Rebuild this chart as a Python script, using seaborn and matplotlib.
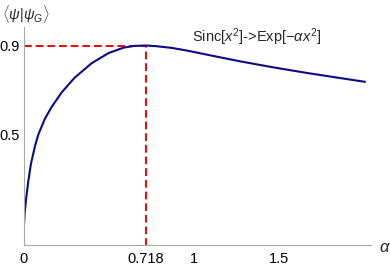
import matplotlib
matplotlib.use("Agg")
import matplotlib.pyplot as plt
import seaborn as sns
import pandas as pd

# overlap <psi|psi_G>
alpha = [0, 0.001, 0.007, 0.015, 0.028, 0.044, 0.068, 0.087, 0.125, 0.166, 0.225,
         0.3, 0.4, 0.5, 0.587, 0.65, 0.718, 0.78, 0.875, 0.97, 1.078, 1.274,
         1.469, 1.666, 1.862, 2.009]
overlap = [0, 0.07, 0.15, 0.21, 0.29, 0.37, 0.45, 0.5, 0.57, 0.625, 0.69,
           0.755, 0.82, 0.866, 0.89, 0.898, 0.9, 0.897, 0.889, 0.876, 0.859, 0.829,
           0.802, 0.777, 0.754, 0.737]
alpha_opt = 0.718
overlap_max = 0.9
xticks = [0, 0.718, 1, 1.5]
xticklabels = ["0", "0.718", "1", "1.5"]
yticks = [0.5, 0.9]
yticklabels = ["0.5", "0.9"]

sns.set_theme(style="white")
plt.rcParams["font.family"] = ["Liberation Sans", "DejaVu Sans"]
plt.rcParams["mathtext.fontset"] = "custom"
plt.rcParams["mathtext.rm"] = "Liberation Sans"
plt.rcParams["mathtext.it"] = "Liberation Sans:italic"

df = pd.DataFrame({"alpha": alpha, "overlap": overlap})

fig = plt.figure(figsize=(3.9, 2.69), dpi=100)
ax = fig.add_axes([23.5 / 390, 24 / 269, 347.5 / 390, 218 / 269])

# dashed guides to the maximum
ax.plot([0, alpha_opt], [overlap_max, overlap_max], color="red", ls=(0, (4, 2)), lw=1.4, zorder=1)
ax.plot([alpha_opt, alpha_opt], [0, overlap_max], color="red", ls=(0, (4, 2)), lw=1.4, zorder=1)

sns.lineplot(data=df, x="alpha", y="overlap", ax=ax, color="#0a0a8c", lw=1.5, zorder=2)

ax.set_xlim(0, 2.044)
ax.set_ylim(0.005, 0.983)
ax.set_xticks(xticks)
ax.set_xticklabels(xticklabels)
ax.set_yticks(yticks)
ax.set_yticklabels(yticklabels)
ax.set_xlabel("")
ax.set_ylabel("")

for s in ["top", "right"]:
    ax.spines[s].set_visible(False)
for s in ["left", "bottom"]:
    ax.spines[s].set_color("#aaaaaa")
    ax.spines[s].set_linewidth(0.8)

ax.tick_params(axis="both", direction="in", length=4, width=0.6, color="#aaaaaa",
               labelsize=10.5, labelcolor="black", pad=3)
ax.tick_params(axis="x", pad=5)

fig.text(385 / 390, 1 - 247 / 269, r"$\alpha$", fontsize=12, ha="center", va="center")
fig.text(2 / 390, 1 - 14 / 269, r"$\langle\psi|\psi_G\rangle$", fontsize=10.5, ha="left", va="center")
fig.text(257 / 390, 1 - 37 / 269, r"Sinc[$x^2$]->Exp[$-\alpha x^2$]", fontsize=10.5,
         ha="center", va="center")

fig.savefig("out.png", dpi=100)
